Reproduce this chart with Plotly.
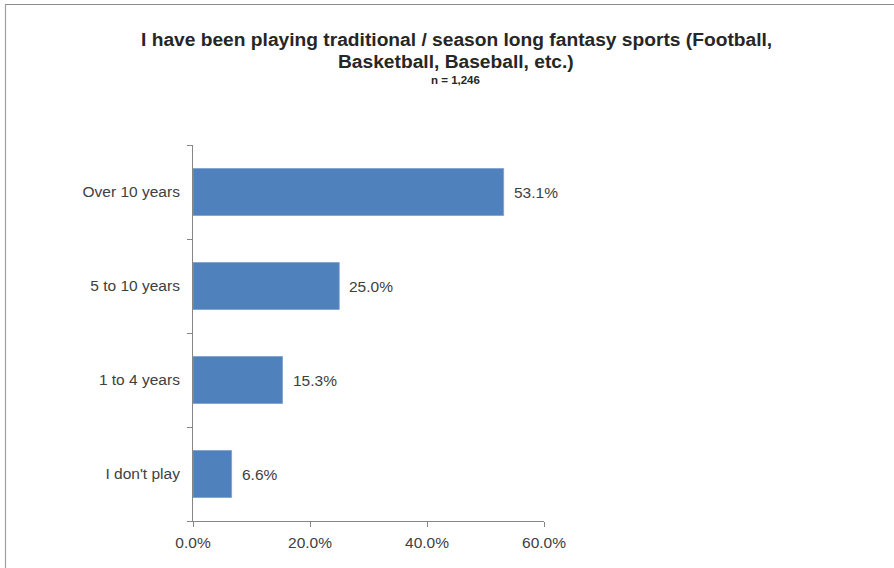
import plotly.graph_objects as go

categories = ["I don't play", "1 to 4 years", "5 to 10 years", "Over 10 years"]
values = [6.6, 15.3, 25.0, 53.1]
x_ticks = [0, 20, 40, 60]
x_tick_labels = ["0.0%", "20.0%", "40.0%", "60.0%"]

W, H = 894, 568
ML, MR, MT, MB = 193, 350, 145, 47
PW, PH = W - ML - MR, H - MT - MB

FONT = "Liberation Sans, Arial, sans-serif"
TEXT = "#404040"
AXIS = "#868686"
LABEL_SIZE = 15.5


def px_x(px):
    return (px - ML) / PW


def px_y(py):
    return (H - MB - py) / PH


fig = go.Figure(
    go.Bar(
        x=values,
        y=categories,
        orientation="h",
        marker=dict(color="#4F81BD", line=dict(color="#7BA0CD", width=0.8)),
        hoverinfo="skip",
    )
)

annotations = [
    dict(x=v, y=c, xref="x", yref="y", text=f"{v:.1f}%", showarrow=False,
         xanchor="left", xshift=8, font=dict(family=FONT, size=LABEL_SIZE, color=TEXT))
    for c, v in zip(categories, values)
]
annotations += [
    dict(x=px_x(456), y=px_y(40), xref="paper", yref="paper",
         text="<b>I have been playing traditional / season long fantasy sports (Football,</b>",
         showarrow=False, xanchor="center", yanchor="middle",
         font=dict(family=FONT, size=19.2, color="#262626")),
    dict(x=px_x(456), y=px_y(61), xref="paper", yref="paper",
         text="<b>Basketball, Baseball, etc.)</b>",
         showarrow=False, xanchor="center", yanchor="middle",
         font=dict(family=FONT, size=19.2, color="#262626")),
    dict(x=px_x(455), y=px_y(80), xref="paper", yref="paper",
         text="<b>n = 1,246</b>",
         showarrow=False, xanchor="center", yanchor="middle",
         font=dict(family=FONT, size=11.5, color="#262626")),
]

# thin frame along the top and left edges of the page
shapes = [
    dict(type="line", xref="paper", yref="paper", x0=px_x(5), x1=px_x(W + 5),
         y0=px_y(4.5), y1=px_y(4.5), line=dict(color="#8C8C8C", width=1.2)),
    dict(type="line", xref="paper", yref="paper", x0=px_x(5.5), x1=px_x(5.5),
         y0=px_y(4), y1=px_y(H + 5), line=dict(color="#A0A0A0", width=1.2)),
]

fig.update_layout(
    width=W, height=H,
    margin=dict(l=ML, r=MR, t=MT, b=MB),
    paper_bgcolor="white", plot_bgcolor="white",
    bargap=0.5,
    showlegend=False,
    annotations=annotations,
    shapes=shapes,
    font=dict(family=FONT, size=LABEL_SIZE, color=TEXT),
    xaxis=dict(
        range=[0, 60], tickvals=x_ticks, ticktext=x_tick_labels,
        showgrid=False, zeroline=False, showline=True, linecolor=AXIS, linewidth=1,
        ticks="outside", ticklen=5, tickcolor=AXIS, tickwidth=1, ticklabelstandoff=2,
        tickfont=dict(family=FONT, size=LABEL_SIZE, color=TEXT),
    ),
    yaxis=dict(
        categoryorder="array", categoryarray=categories,
        showgrid=False, zeroline=False, showline=True, linecolor=AXIS, linewidth=1,
        ticks="outside", tickson="boundaries", ticklen=5, tickcolor=AXIS, tickwidth=1,
        ticklabelstandoff=9,
        tickfont=dict(family=FONT, size=LABEL_SIZE, color=TEXT),
    ),
)

fig.write_html("out.html")
